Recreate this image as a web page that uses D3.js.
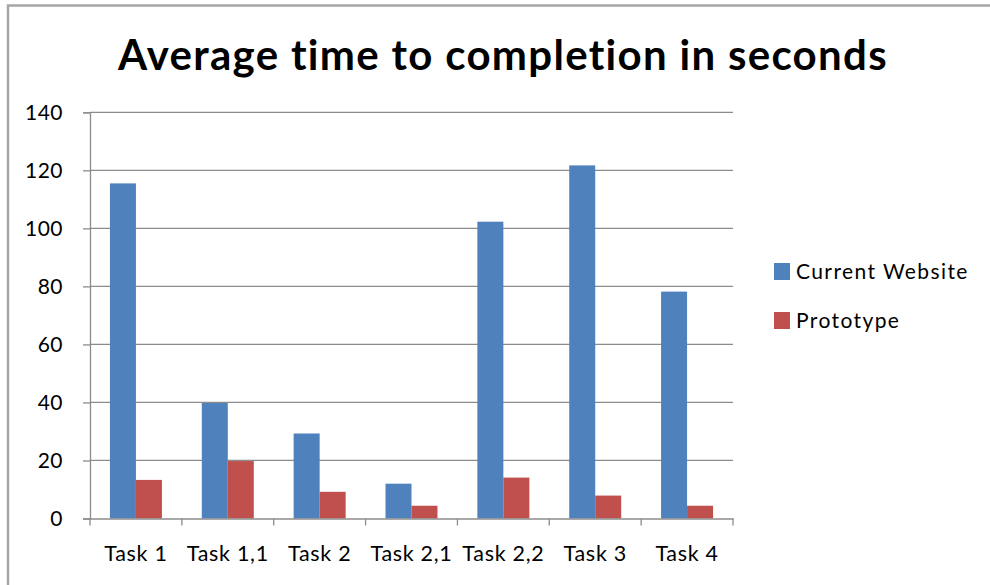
<!DOCTYPE html>
<html>
<head>
<meta charset="utf-8">
<script src="https://cdn.jsdelivr.net/npm/d3@7"></script>
<style>
  html, body { margin: 0; padding: 0; background: #fff; }
  svg { display: block; }
  text { font-family: Lato, "Open Sans", sans-serif; fill: #000; }
</style>
</head>
<body>
<svg id="chart" width="990" height="585"></svg>
<script>
const title = "Average time to completion in seconds";
const categories = ["Task 1", "Task 1,1", "Task 2", "Task 2,1", "Task 2,2", "Task 3", "Task 4"];
const seriesNames = ["Current Website", "Prototype"];
const currentWebsite = [115.5, 39.8, 29.3, 12.0, 102.3, 121.7, 78.2];
const prototype = [13.3, 19.8, 9.2, 4.4, 14.1, 7.9, 4.4];
const yTicks = [0, 20, 40, 60, 80, 100, 120, 140];
const colors = ["#4F81BD", "#C0504D"];

const svg = d3.select("#chart");
const W = 990, H = 585;
const plot = { left: 90, right: 733, top: 112.3, bottom: 518.5 };

// chart frame
svg.append("rect").attr("x", 8).attr("y", 5.5).attr("width", W + 20).attr("height", H + 20)
  .attr("fill", "#fff").attr("stroke", "#a6a6a6").attr("stroke-width", 2.5);

const x = d3.scaleBand().domain(categories).range([plot.left, plot.right]).padding(0);
const inner = d3.scaleBand().domain(seriesNames)
  .range([x.bandwidth() * 0.217, x.bandwidth() * 0.783]).padding(0);
const y = d3.scaleLinear().domain([0, 140]).range([plot.bottom, plot.top]);

// gridlines
svg.append("g").selectAll("line").data(yTicks.filter(d => d > 0)).join("line")
  .attr("x1", plot.left).attr("x2", plot.right)
  .attr("y1", d => y(d)).attr("y2", d => y(d))
  .attr("stroke", "#8c8c8c").attr("stroke-width", 1.3);

// bars
const data = categories.map((c, i) => ({ c, vals: [currentWebsite[i], prototype[i]] }));
const groups = svg.append("g").selectAll("g").data(data).join("g")
  .attr("transform", d => `translate(${x(d.c)},0)`);
groups.selectAll("rect").data(d => d.vals.map((v, j) => ({ v, s: seriesNames[j], j })))
  .join("rect")
  .attr("x", d => inner(d.s)).attr("width", inner.bandwidth())
  .attr("y", d => y(d.v)).attr("height", d => y(0) - y(d.v))
  .attr("fill", d => colors[d.j]);

// y axis
const yAxis = d3.axisLeft(y).tickValues(yTicks).tickSize(7).tickPadding(20);
const yg = svg.append("g").attr("transform", `translate(${plot.left},0)`).call(yAxis);
yg.select(".domain").attr("stroke", "#8c8c8c").attr("stroke-width", 1.3);
yg.selectAll(".tick line").attr("stroke", "#8c8c8c").attr("stroke-width", 1.3);
yg.selectAll(".tick text").attr("font-size", 21).attr("letter-spacing", 0.5)
  .attr("font-family", "Lato, sans-serif").attr("fill", "#000");

// x axis
const xAxis = d3.axisBottom(x).tickSize(0).tickPadding(27);
const xg = svg.append("g").attr("transform", `translate(0,${plot.bottom})`).call(xAxis);
xg.select(".domain").attr("stroke", "#8c8c8c").attr("stroke-width", 1.3);
xg.selectAll(".tick text").attr("font-size", 21.5).attr("letter-spacing", 0.7)
  .attr("font-family", "Lato, sans-serif").attr("fill", "#000");
// category boundary ticks
const bounds = categories.map(c => x(c)).concat([plot.right]);
xg.append("g").selectAll("line").data(bounds).join("line")
  .attr("x1", d => d).attr("x2", d => d).attr("y1", 0).attr("y2", 7)
  .attr("stroke", "#8c8c8c").attr("stroke-width", 1.3);

// title
svg.append("text").attr("x", 503).attr("y", 70).attr("text-anchor", "middle")
  .attr("font-size", 42).attr("letter-spacing", 1.3).attr("font-weight", "bold").text(title);

// legend
const legend = svg.append("g");
seriesNames.forEach((s, i) => {
  const ly = 263 + i * 49;
  legend.append("rect").attr("x", 774).attr("y", ly).attr("width", 16).attr("height", 17).attr("fill", colors[i]);
  legend.append("text").attr("x", 796).attr("y", ly + 16).attr("font-size", 21)
    .attr("letter-spacing", 1.4).text(s);
});
</script>
</body>
</html>
